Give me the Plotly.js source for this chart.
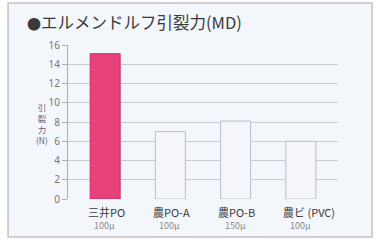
<!DOCTYPE html>
<html><head><meta charset="utf-8">
<script src="https://cdn.plot.ly/plotly-3.0.1.min.js"></script>
<style>html,body{margin:0;padding:0;background:#fff}#c{width:378px;height:241px}</style>
</head><body><div id="c"></div>
<script>
const categories = ["三井PO", "農PO-A", "農PO-B", "農ビ (PVC)"];
const thickness = ["100μ", "100μ", "150μ", "100μ"];
const values = [15.1, 7.0, 8.1, 6.0];
const yTicks = [0, 2, 4, 6, 8, 10, 12, 14, 16];
const titleText = "<span style='font-size:14px'>●</span>エルメンドルフ引裂力(MD)";
const yTitle = ["引", "裂", "力", "(N)"];

const fills = values.map((v, i) => i === 0 ? "#e6417b" : "#f5f6fc");
const lines = values.map((v, i) => i === 0 ? "#cf3068" : "#b9bccb");
const xs = categories.map((c, i) => i);

const data = [{
  type: "bar", x: xs, y: values, width: 0.46,
  marker: {color: fills, line: {color: lines, width: 1}},
  hoverinfo: "skip"
}];

const annotations = [];
categories.forEach((c, i) => {
  annotations.push({xref: "x", yref: "paper", x: i - 0.3, y: -0.02, xanchor: "left", yanchor: "top",
    text: c, showarrow: false, font: {family: "Noto Sans CJK JP", size: 11, color: "#3a3a3a"}});
  annotations.push({xref: "x", yref: "paper", x: i - 0.2, y: -0.115, xanchor: "left", yanchor: "top",
    text: thickness[i], showarrow: false, font: {family: "Noto Sans CJK JP", size: 9, color: "#8a8a8a"}});
});
annotations.push({xref: "paper", yref: "paper", x: -0.095, y: 0.49, xanchor: "center", yanchor: "middle",
  text: yTitle.join("<br>"), showarrow: false, font: {family: "Noto Sans CJK JP", size: 8.5, color: "#6e5a78"}});
annotations.push({xref: "paper", yref: "paper", x: -0.16, y: 1.15, xanchor: "left", yanchor: "middle",
  text: titleText, showarrow: false, font: {family: "Noto Sans CJK JP", size: 16.5, color: "#3a3a3a"}});

const layout = {
  width: 378, height: 241,
  margin: {l: 68, r: 40, t: 45, b: 42},
  paper_bgcolor: "#ffffff", plot_bgcolor: "rgba(0,0,0,0)",
  showlegend: false,
  xaxis: {range: [-0.57, 3.57], showticklabels: false, showgrid: false, zeroline: false, ticks: "", fixedrange: true},
  yaxis: {range: [0, 16], tickvals: yTicks, ticktext: yTicks.map(String), showgrid: true, gridcolor: "#c9ccd6", gridwidth: 1,
    zeroline: false, showline: true, linecolor: "#a9adb8", linewidth: 1, ticks: "outside", ticklen: 5, tickcolor: "#a9adb8",
    tickfont: {family: "Noto Sans", size: 10, color: "#777"}, fixedrange: true},
  shapes: [{type: "rect", xref: "paper", yref: "paper", x0: -0.222, x1: 1.126, y0: -0.247, y1: 1.273,
    fillcolor: "#f3f6fb", line: {color: "#c8bfcc", width: 1.5}, layer: "below"}],
  annotations: annotations
};
Plotly.newPlot("c", data, layout, {displayModeBar: false, staticPlot: true});
</script></body></html>
